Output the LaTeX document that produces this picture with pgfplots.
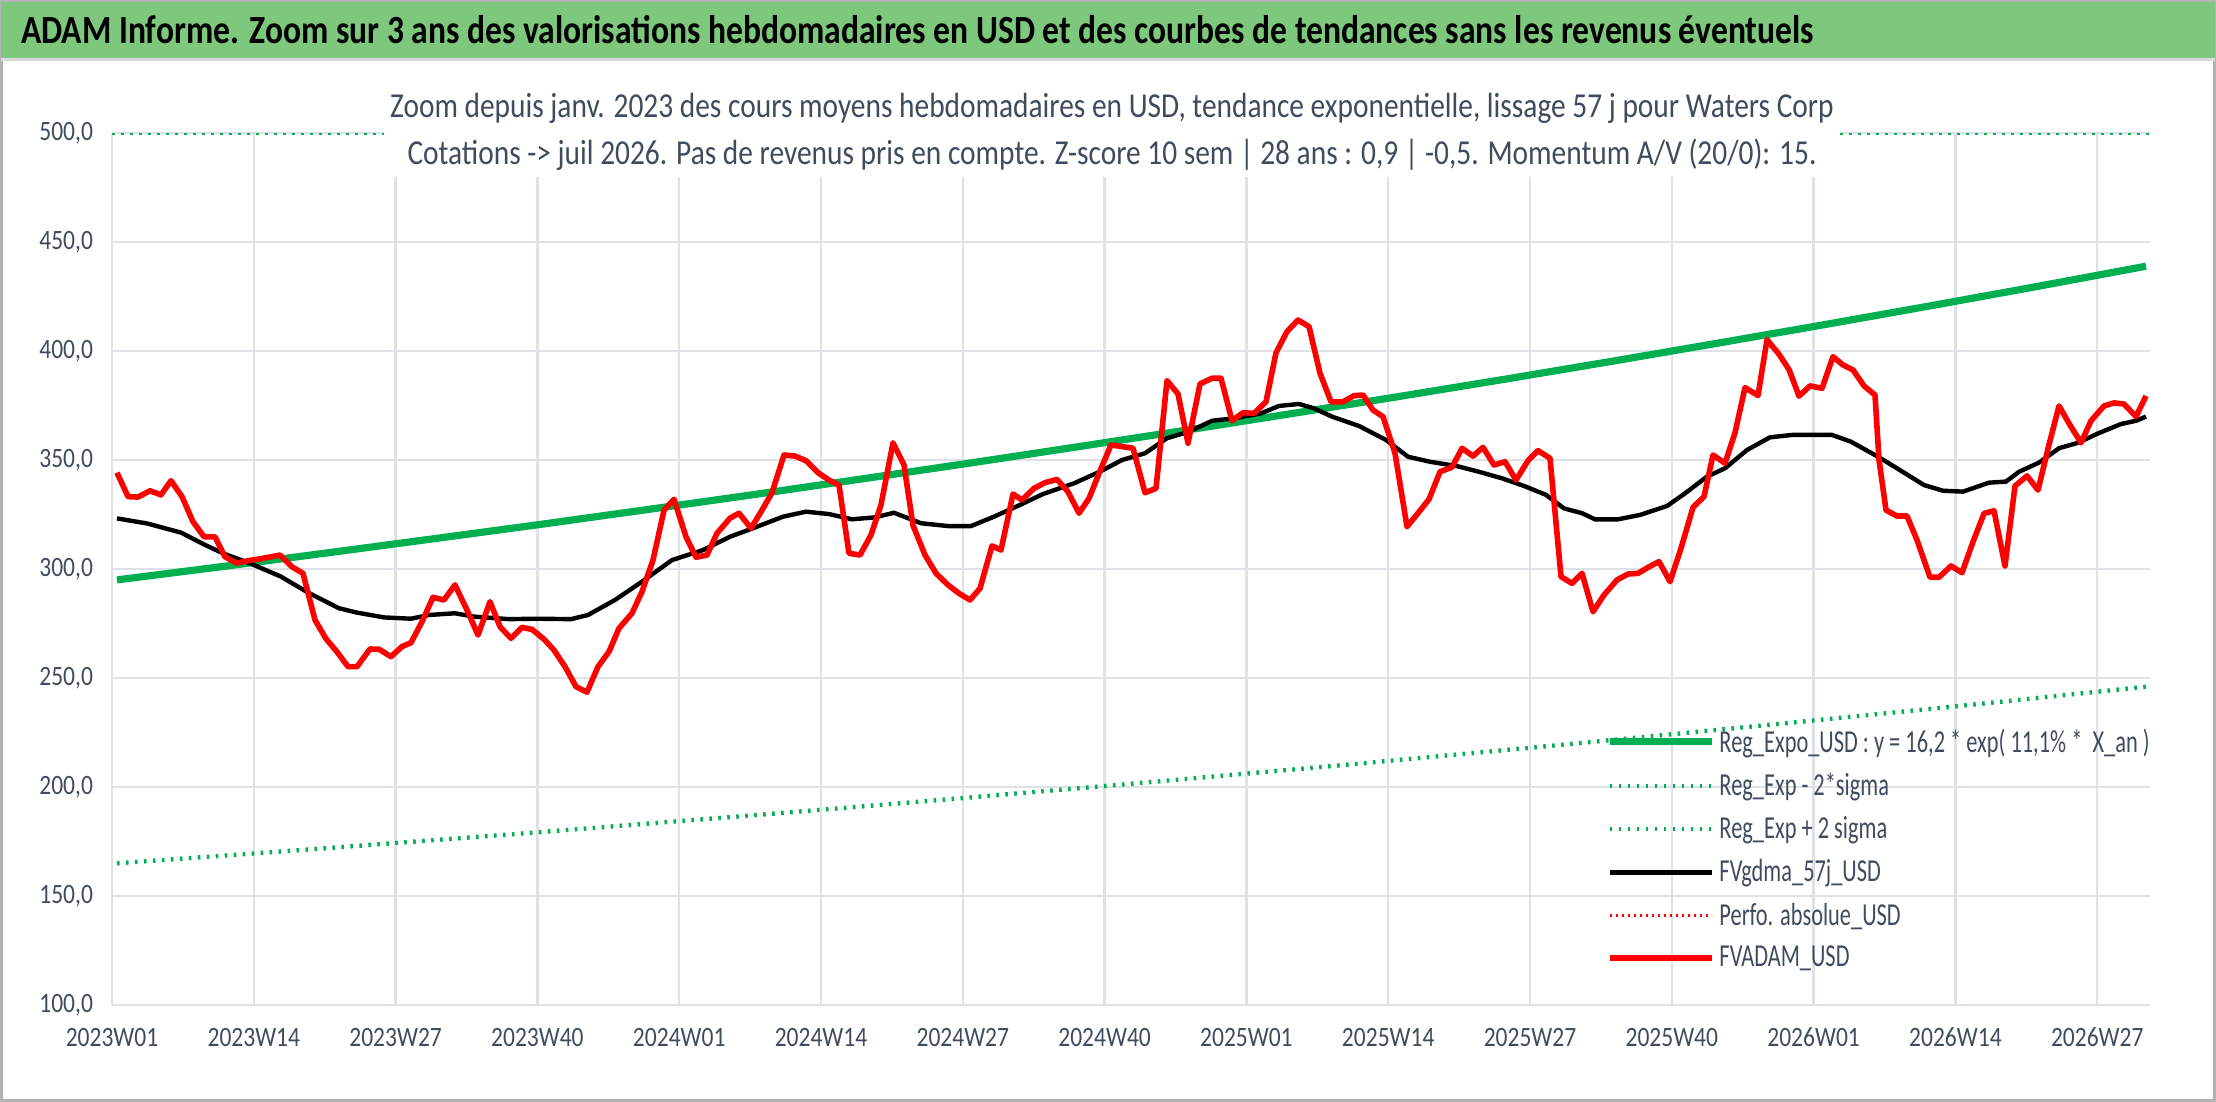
\documentclass[border=0pt]{standalone}
\usepackage{pgfplots}
\pgfplotsset{compat=1.18}
\usepackage{fontspec}
\setmainfont{Carlito}[FakeStretch=0.84]
\newfontfamily\legfont{Carlito}[FakeStretch=0.70]
\definecolor{tbar}{RGB}{125,200,125}
\definecolor{gr}{RGB}{0,176,80}
\definecolor{txt}{RGB}{64,75,94}
\definecolor{gridc}{RGB}{222,226,232}
\begin{document}
\begin{tikzpicture}
\path[use as bounding box] (0,0) rectangle (1108pt,-551pt);
\draw[gray!60,line width=1.5pt] (0.75pt,-0.75pt) rectangle (1107.25pt,-550.25pt);
\fill[tbar] (0.5pt,-1pt) rectangle (1107.5pt,-29pt);
\draw[gray!30,line width=1.5pt] (0.5pt,-30pt) -- (1107.5pt,-30pt);
\node[anchor=west,font=\bfseries\fontsize{20}{22}\selectfont] at (7pt,-15pt) {ADAM Informe. Zoom sur 3 ans des valorisations hebdomadaires en USD et des courbes de tendances sans les revenus éventuels};
\begin{axis}[
  at={(56pt,-502.5pt)}, anchor=south west,
  scale only axis, width=1019pt, height=436pt,
  xmin=112, xmax=2150, ymin=100, ymax=500,
  ytick={100,150,...,500},
  yticklabel={\pgfmathprintnumber[fixed,fixed zerofill,precision=1,use comma]{\tick}},
  xtick={112,253.8,395.6,537.4,679.2,821,962.8,1104.6,1246.4,1388.2,1530,1671.8,1813.6,1955.4,2097.2},
  xticklabels={2023W01,2023W14,2023W27,2023W40,2024W01,2024W14,2024W27,2024W40,2025W01,2025W14,2025W27,2025W40,2026W01,2026W14,2026W27},
  grid=major, grid style={draw=gridc,line width=1.2pt},
  axis line style={draw=none}, tick style={draw=none},
  ticklabel style={font=\fontsize{14}{16}\selectfont,text=txt},
  /pgf/number format/assume math mode=true,
  xticklabel style={yshift=-8pt}, yticklabel style={xshift=-6pt},
  legend style={at={(0.733,0.322)},anchor=north west,draw=none,fill=none,
    font=\legfont\fontsize{16}{18}\selectfont,text=txt,row sep=5pt,inner sep=0pt,
    cells={anchor=west}},
  legend image code/.code={\draw[#1] (0pt,0pt) -- (51pt,0pt);},
]
\addplot[gr,line width=2pt,dash pattern=on 1.3pt off 3.2pt,forget plot] coordinates {(112,500)(2150,500)};
\addplot[gr,line width=2.2pt,dash pattern=on 1.3pt off 3.2pt,forget plot] coordinates {
(117,165)(319.9,171.7)(522.8,178.7)(725.7,186.0)(928.6,193.6)(1131.5,201.5)(1334.4,209.7)(1537.3,218.3)(1740.2,227.2)(1943.1,236.4)(2146,246)};
\addplot[gr,line width=3.6pt,forget plot] coordinates {
(117,295)(223.8,301.2)(330.6,307.6)(437.4,314.1)(544.2,320.7)(651,327.5)(757.8,334.4)(864.6,341.5)(971.4,348.7)(1078.2,356.1)(1185,363.6)(1291.8,371.3)(1398.6,379.1)(1505.4,387.1)(1612.2,395.3)(1719,403.7)(1825.8,412.2)(1932.6,420.9)(2039.4,429.8)(2146,438.9)};
\addplot[black,line width=2.2pt,forget plot] coordinates {
(117,323.2)(147,320.9)(181,316.7)(203,311.5)(223,307.2)(250,302.6)(281,296.5)(308,289.2)(339,282)(357,280)(384,277.8)(411,277.2)(429,278.9)(455,279.7)(473,278.2)(509,277)(536,277.2)(571,277)(588,278.9)(615,285.8)(642,294.2)(672,304.1)(703,308.7)(730,314.8)(753,318.7)(783,324)(806,326.3)(829,325.2)(852,322.8)(875,323.7)(894,325.8)(921,321)(948,319.7)(971,319.7)(994,324)(1020,329.4)(1043,334.4)(1074,339.3)(1100,344.7)(1122,350)(1145,353.1)(1167,360)(1189,363)(1212,368)(1234,369.1)(1261,371.4)(1279,374.8)(1299,375.7)(1314,373.7)(1332,369.9)(1359,365.6)(1386,359.2)(1408,351.5)(1430,349.2)(1457,347.2)(1479,344.6)(1502,341.6)(1524,338.1)(1546,334)(1564,327.8)(1582,325.6)(1595,322.8)(1618,322.8)(1640,324.8)(1667,328.9)(1685,334.7)(1707,342.4)(1725,346.2)(1747,354.6)(1770,360.4)(1792,361.5)(1832,361.5)(1851,358.4)(1878,351.5)(1897,346.2)(1924,338.5)(1943,335.9)(1963,335.5)(1989,339.6)(2006,340.1)(2019,344.6)(2039,348.8)(2059,355.4)(2078,357.9)(2098,362.2)(2121,366.5)(2136,368)(2146,369.9)};
\addplot[red,line width=2.8pt,line join=round,forget plot] coordinates {
(117,344.2)(128,333.2)(138,333)(150,335.9)(161,334)(171,340.5)(182,333.2)(193,321.7)(204,314.8)(215,314.7)(225,305.6)(237,302.7)(248,303.8)(259,304.6)(270,305.5)(280,306.4)(292,301)(303,298)(315,276.6)(326,268)(337,262)(348,255.2)(357,255.2)(370,263.3)(379,263.2)(391,259.8)(402,264.4)(411,266.2)(422,275.8)(433,287)(444,285.8)(455,292.7)(467,281.2)(478,269.7)(490,285)(500,273.5)(511,268.2)(522,273.2)(532,272.3)(544,267.8)(554,262.8)(565,255.2)(576,246)(587,243.5)(598,255.2)(609,262.1)(619,272.8)(632,279.7)(642,289.6)(653,304.1)(664,327)(674,332)(686,314.8)(696,305.4)(707,306.4)(717,316.4)(730,323.3)(739,325.6)(751,318.7)(762,327)(772,335)(784,352.3)(795,351.8)(806,349.7)(818,344.2)(829,340.8)(839,338.5)(849,307.2)(860,306.4)(871,315.6)(881,329.4)(893,357.9)(904,347.7)(913,320)(925,306.4)(936,298)(948,292.7)(959,288.8)(970,285.8)(980,291.1)(992,310.6)(1001,308.7)(1013,334.4)(1022,331.7)(1034,337)(1045,339.6)(1057,341.1)(1068,335.4)(1079,325.6)(1089,332.4)(1100,345)(1111,356.9)(1133,355.4)(1145,335)(1156,337)(1167,386.4)(1178,380.3)(1188,357.7)(1200,384.9)(1212,387.5)(1221,387.5)(1232,368)(1243,371.7)(1254,371.4)(1266,376.7)(1276,399.2)(1287,408.9)(1298,414.2)(1309,411.2)(1320,389.8)(1331,376.7)(1343,376.7)(1354,379.5)(1363,379.8)(1373,372.9)(1383,369.9)(1395,353.1)(1407,319.4)(1418,325.6)(1429,332)(1440,344.6)(1452,346.7)(1462,355.4)(1473,351.8)(1483,355.8)(1494,347.7)(1505,349.2)(1516,340.8)(1528,349.7)(1538,354.3)(1550,350.8)(1561,296.5)(1572,293.4)(1582,298)(1593,280.4)(1604,288.1)(1617,295)(1628,297.7)(1638,298)(1649,301)(1659,303.4)(1670,294.2)(1681,309.5)(1693,328.3)(1704,333.2)(1713,352.3)(1725,348.5)(1735,362.5)(1745,383.2)(1758,379.6)(1767,405.2)(1779,398.5)(1789,391.5)(1799,379.3)(1810,384)(1822,382.9)(1833,397.4)(1843,393.6)(1853,391.3)(1864,384)(1875,379.8)(1879,350)(1886,327)(1897,324.3)(1907,324.3)(1917,313.3)(1930,296.2)(1939,296.2)(1951,301.4)(1962,298.3)(1973,312.5)(1984,325.5)(1994,326.7)(2005,301.4)(2015,338.1)(2027,342.7)(2038,336.2)(2049,357.1)(2059,374.8)(2070,366)(2081,357.9)(2091,368)(2104,374.8)(2114,376.2)(2124,375.7)(2136,369.9)(2146,379.4)};
\addlegendimage{gr,line width=3.6pt}
\addlegendentry{Reg\_Expo\_USD : y = 16,2 * exp( 11,1\% *\ \ X\_an )}
\addlegendimage{gr,line width=2.2pt,dash pattern=on 1.3pt off 3.2pt}
\addlegendentry{Reg\_Exp - 2*sigma}
\addlegendimage{gr,line width=2.2pt,dash pattern=on 1.3pt off 3.2pt}
\addlegendentry{Reg\_Exp + 2 sigma}
\addlegendimage{black,line width=2.2pt}
\addlegendentry{FVgdma\_57j\_USD}
\addlegendimage{red,line width=1.2pt,dash pattern=on 1pt off 2pt}
\addlegendentry{Perfo. absolue\_USD}
\addlegendimage{red,line width=2.8pt}
\addlegendentry{FVADAM\_USD}
\end{axis}
\node[fill=white,inner sep=3pt,align=center,text=txt,font=\fontsize{17.5}{23.5}\selectfont] at (556pt,-66pt)
 {Zoom depuis janv. 2023 des cours moyens hebdomadaires en USD, tendance exponentielle, lissage 57 j pour Waters Corp\\
  Cotations -> juil 2026. Pas de revenus pris en compte. Z-score 10 sem | 28 ans : 0,9 | -0,5. Momentum A/V (20/0): 15.};
\end{tikzpicture}
\end{document}
